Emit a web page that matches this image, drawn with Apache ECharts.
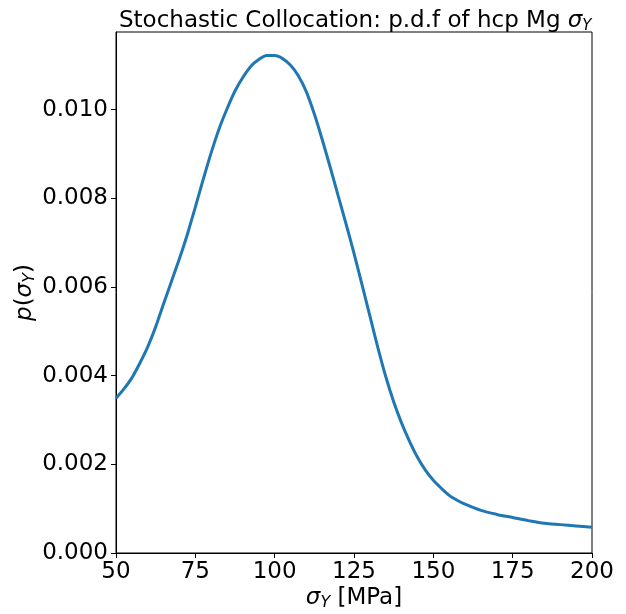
<!DOCTYPE html>
<html>
<head>
<meta charset="utf-8">
<script src="https://cdn.jsdelivr.net/npm/echarts@6/dist/echarts.min.js"></script>
<style>
html,body{margin:0;padding:0;background:#fff;}
#chart{width:626px;height:614px;}
</style>
</head>
<body>
<div id="chart"></div>
<script>
const sigmaY = [50,52.5,55,57.5,60,62.5,65,67.5,70,72.5,75,77.5,80,82.5,85,87.5,90,92.5,95,97.5,100,102.5,105,107.5,110,112.5,115,117.5,120,122.5,125,127.5,130,132.5,135,137.5,140,142.5,145,147.5,150,152.5,155,157.5,160,165,170,175,180,185,190,195,200];
const pdf = [0.00349,0.00370,0.00395,0.00428,0.00465,0.00510,0.00562,0.00613,0.00664,0.00719,0.00780,0.00843,0.00903,0.00957,0.01002,0.01042,0.01073,0.01098,0.01113,0.01122,0.01122,0.01115,0.01100,0.01076,0.01040,0.00990,0.00932,0.00870,0.00806,0.00742,0.00676,0.00606,0.00535,0.00464,0.00398,0.00341,0.00293,0.00252,0.00216,0.00187,0.00164,0.00146,0.00130,0.00119,0.00110,0.00096,0.00087,0.00080,0.00073,0.00067,0.00064,0.00061,0.00058];
const xTicks = [50,75,100,125,150,175,200];
const yTicks = [0,0.002,0.004,0.006,0.008,0.010];

const FONT = 'DejaVu Sans';
const chart = echarts.init(document.getElementById('chart'), null, {renderer:'canvas'});
const points = sigmaY.map((x,i)=>[x,pdf[i]]);
chart.setOption({
  animation:false,
  backgroundColor:'#fff',
  title:{
    text:'Stochastic Collocation: p.d.f of hcp Mg {s|σ}{sub|Y}',
    left:114, top:3,
    textStyle:{
      fontFamily:FONT, fontSize:23, fontWeight:'normal', color:'#000',
      rich:{
        s:{fontFamily:FONT, fontStyle:'italic', fontSize:23, color:'#000'},
        sub:{fontFamily:FONT, fontStyle:'italic', fontSize:15, color:'#000', padding:[11,0,0,0]}
      }
    }
  },
  grid:{left:116, right:34, top:32, bottom:61, show:true, borderColor:'#000', borderWidth:1,
        backgroundColor:'transparent', containLabel:false, outerBoundsMode:'none'},
  xAxis:{
    type:'value', min:50, max:200, interval:25,
    name:'{s|σ}{sub|Y}{n| [MPa]}', nameLocation:'middle', nameGap:32, nameMoveOverlap:false,
    nameTextStyle:{
      fontFamily:FONT, fontSize:23, color:'#000',
      rich:{
        s:{fontFamily:FONT, fontStyle:'italic', fontSize:23, color:'#000'},
        sub:{fontFamily:FONT, fontStyle:'italic', fontSize:16, color:'#000', padding:[10,0,0,0]},
        n:{fontFamily:FONT, fontSize:23, color:'#000'}
      }
    },
    axisLine:{show:true, onZero:false, lineStyle:{color:'#000', width:1}},
    axisTick:{show:true, inside:false, length:5, lineStyle:{color:'#000', width:1}},
    axisLabel:{fontFamily:FONT, fontSize:23, color:'#000', margin:8,
      customValues: xTicks},
    splitLine:{show:false}
  },
  yAxis:{
    type:'value', min:0, max:0.01175,
    name:'{p|p}{n|(}{s|σ}{sub|Y}{n|)}', nameLocation:'middle', nameGap:78, nameRotate:90, nameMoveOverlap:false,
    nameTextStyle:{
      fontFamily:FONT, fontSize:23, color:'#000',
      rich:{
        p:{fontFamily:FONT, fontStyle:'italic', fontSize:23, color:'#000'},
        s:{fontFamily:FONT, fontStyle:'italic', fontSize:23, color:'#000'},
        sub:{fontFamily:FONT, fontStyle:'italic', fontSize:16, color:'#000', padding:[10,0,0,0]},
        n:{fontFamily:FONT, fontSize:23, color:'#000'}
      }
    },
    axisLine:{show:true, onZero:false, lineStyle:{color:'#000', width:1}},
    axisTick:{show:true, inside:false, length:5, lineStyle:{color:'#000', width:1}, customValues:yTicks},
    axisLabel:{fontFamily:FONT, fontSize:23, color:'#000', margin:8,
      customValues:yTicks, formatter:(v)=>v.toFixed(3)},
    splitLine:{show:false}
  },
  series:[{
    type:'line', data:points, showSymbol:false, smooth:0.3,
    lineStyle:{color:'#1f77b4', width:3}, clip:true
  }]
});
</script>
</body>
</html>
